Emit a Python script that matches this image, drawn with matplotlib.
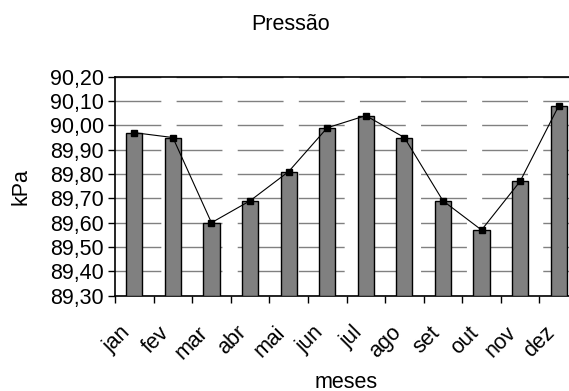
import matplotlib
matplotlib.use("Agg")
import matplotlib.pyplot as plt
from matplotlib.ticker import FuncFormatter, MultipleLocator, FixedLocator
from matplotlib.transforms import ScaledTranslation

months = ["jan", "fev", "mar", "abr", "mai", "jun", "jul", "ago", "set", "out", "nov", "dez"]
pressure = [89.97, 89.95, 89.60, 89.69, 89.81, 89.99, 90.04, 89.95, 89.69, 89.57, 89.77, 90.08]

Y_MIN = 89.30
Y_MAX = 90.20

plt.rcParams["font.family"] = ["Liberation Sans", "DejaVu Sans"]
plt.rcParams["lines.scale_dashes"] = False

FS = 15.5


def main():
    fig = plt.figure(figsize=(5.69, 3.91), dpi=100)
    # plot area runs past the right edge of the figure, as in the reference
    ax = fig.add_axes([115 / 569, 1 - 295.7 / 391, 463 / 569, 219 / 391])

    x = list(range(len(months)))
    ax.bar(x, [v - Y_MIN for v in pressure], bottom=Y_MIN, width=0.42,
           color="#808080", edgecolor="black", linewidth=1.0, zorder=3)
    ax.plot(x, pressure, color="black", linewidth=0.8, marker="s",
            markersize=3.8, zorder=4)

    ax.set_xlim(-0.5, len(months) - 0.5)
    ax.set_ylim(Y_MIN, Y_MAX)

    ax.yaxis.set_major_locator(MultipleLocator(0.1))
    ax.yaxis.set_major_formatter(FuncFormatter(lambda v, p: f"{v:.2f}".replace(".", ",")))
    ax.yaxis.grid(True, color="#808080", linewidth=1.0, dashes=(33, 11), zorder=0)

    ax.xaxis.set_major_locator(FixedLocator([i - 0.5 for i in range(len(months) + 1)]))
    ax.xaxis.set_major_formatter(FuncFormatter(lambda v, p: ""))
    ax.xaxis.set_minor_locator(FixedLocator(x))
    ax.set_xticklabels(months, minor=True)
    ax.tick_params(axis="x", which="minor", length=0, pad=19, labelsize=FS)
    shift = ScaledTranslation(-14 / 100, 0, fig.dpi_scale_trans)
    for lbl in ax.get_xticklabels(minor=True):
        lbl.set_rotation(45)
        lbl.set_ha("right")
        lbl.set_va("top")
        lbl.set_rotation_mode("anchor")
        lbl.set_transform(lbl.get_transform() + shift)

    ax.tick_params(axis="both", which="major", direction="out", length=5,
                   width=1.0, color="black", labelsize=FS, pad=3)

    for s in ax.spines.values():
        s.set_color("black")
        s.set_linewidth(1.2)

    ax.set_ylabel("kPa", fontsize=FS)
    ax.yaxis.set_label_coords(-(115 - 31) / 463, 0.5)

    fig.text(291 / 569, 1 - 25 / 391, "Pressão", ha="center", va="center", fontsize=FS)
    fig.text(346.5 / 569, 1 - 382 / 391, "meses", ha="center", va="center", fontsize=FS)

    fig.savefig("out.png", dpi=100)
    plt.close(fig)


if __name__ == "__main__":
    main()
